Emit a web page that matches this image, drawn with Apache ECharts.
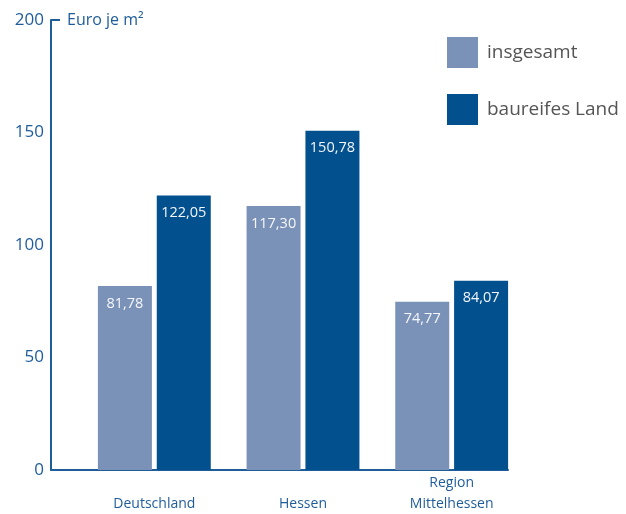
<!DOCTYPE html>
<html>
<head>
<meta charset="utf-8">
<script src="https://cdn.jsdelivr.net/npm/echarts@6/dist/echarts.min.js"></script>
<style>
  html, body { margin: 0; padding: 0; background: #fff; }
  #chart { width: 626px; height: 514px; }
</style>
</head>
<body>
<div id="chart"></div>
<script>
// Daten
const regionen = ['\nDeutschland', '\nHessen', 'Region\nMittelhessen']
const insgesamt = [81.78, 117.30, 74.77]
const baureif = [122.05, 150.78, 84.07]
const yTicks = [0, 50, 100, 150, 200]

const blauAchse = '#1f5c9a'
const hell = '#7a92b7'
const dunkel = '#03508f'
const schrift = '"Open Sans", "DejaVu Sans", sans-serif'

const chart = echarts.init(document.getElementById('chart'))

const fmt = v => v.toFixed(2).replace('.', ',')

const option = {
  animation: false,
  textStyle: { fontFamily: schrift },
  legend: {
    orient: 'vertical',
    left: 442,
    top: 32,
    itemWidth: 31,
    itemHeight: 31,
    itemGap: 26,
    icon: 'rect',
    textStyle: { fontSize: 19, color: '#555', padding: [0, 0, 0, 4], fontFamily: schrift },
    data: ['insgesamt', 'baureifes Land']
  },
  grid: [
    // Achsenrahmen
    { left: 51, width: 457, top: 20, height: 450, outerBoundsMode: 'none' },
    // Balken
    { left: 80, width: 446, top: 20, height: 450, outerBoundsMode: 'none' }
  ],
  xAxis: [
    {
      type: 'category', gridIndex: 0, data: regionen,
      axisLine: { lineStyle: { color: blauAchse, width: 2 } },
      axisTick: { show: false }, axisLabel: { show: false }
    },
    {
      type: 'category', gridIndex: 1, data: regionen,
      axisLine: { show: false },
      axisTick: { show: false },
      axisLabel: { color: blauAchse, fontSize: 14, lineHeight: 21, margin: 3, fontFamily: schrift }
    }
  ],
  yAxis: [
    {
      type: 'value', gridIndex: 0, min: 0, max: 200, interval: 50,
      name: 'Euro je m²', nameLocation: 'end', nameGap: 0,
      nameTextStyle: { color: blauAchse, fontSize: 16, align: 'left', verticalAlign: 'middle', padding: [0, 0, 0, 16], fontFamily: schrift },
      axisLine: { show: true, lineStyle: { color: blauAchse, width: 2 } },
      axisTick: { show: true, inside: true, length: 9, customValues: [200], lineStyle: { color: blauAchse, width: 2 } },
      axisLabel: { color: blauAchse, fontSize: 17, margin: 7, customValues: yTicks, fontFamily: schrift },
      splitLine: { show: false }
    },
    {
      type: 'value', gridIndex: 1, min: 0, max: 200, interval: 50, show: false
    }
  ],
  series: [
    {
      name: 'insgesamt', type: 'bar', xAxisIndex: 1, yAxisIndex: 1,
      data: insgesamt, barWidth: 54, barGap: '9%',
      itemStyle: { color: hell },
      label: { show: true, position: 'insideTop', distance: 10, color: '#f4f6fa', fontSize: 14.5, fontFamily: schrift, formatter: p => fmt(p.value) }
    },
    {
      name: 'baureifes Land', type: 'bar', xAxisIndex: 1, yAxisIndex: 1,
      data: baureif, barWidth: 54,
      itemStyle: { color: dunkel },
      label: { show: true, position: 'insideTop', distance: 10, color: '#f4f6fa', fontSize: 14.5, fontFamily: schrift, formatter: p => fmt(p.value) }
    }
  ]
}

chart.setOption(option)
</script>
</body>
</html>
